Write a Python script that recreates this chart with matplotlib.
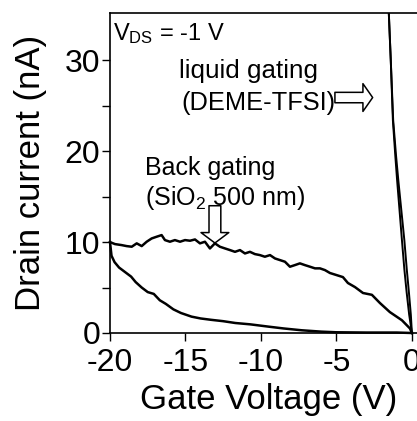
import matplotlib
matplotlib.use("Agg")
import matplotlib.pyplot as plt
from matplotlib.patches import FancyArrowPatch
import numpy as np

plt.rcParams['font.family'] = ['Liberation Sans', 'DejaVu Sans']
plt.rcParams['mathtext.fontset'] = 'custom'
plt.rcParams['mathtext.rm'] = 'Liberation Sans'
plt.rcParams['mathtext.it'] = 'Liberation Sans:italic'
plt.rcParams['axes.unicode_minus'] = False

# back gating (SiO2 500 nm), forward sweep
vg_back_up = [-20.0, -19.67, -19.23, -18.9, -18.56, -18.23, -17.9, -17.57, -17.24, -16.91,
              -16.58, -16.36, -16.03, -15.7, -15.36, -15.03, -14.7, -14.37, -14.04, -13.71,
              -13.38, -13.05, -12.72, -12.38, -12.05, -11.72, -11.39, -11.06, -10.73, -10.4,
              -10.07, -9.74, -9.4, -9.07, -8.74, -8.41, -8.08, -7.75, -7.42, -7.09,
              -6.75, -6.42, -6.09, -5.76, -5.43, -4.57, -4.24, -3.77, -3.24, -2.65,
              -2.12, -1.46, -0.66, -0.13, 0.0]
id_back_up = [10.0, 9.78, 9.67, 9.56, 9.49, 9.86, 9.56, 10.04, 10.4, 10.59,
              10.77, 10.22, 10.04, 10.22, 10.04, 10.22, 10.15, 10.29, 9.86, 10.04,
              9.3, 9.86, 9.49, 9.3, 9.12, 8.93, 9.12, 8.75, 8.93, 8.68,
              8.57, 8.39, 8.57, 8.2, 8.02, 7.84, 7.29, 7.47, 7.66, 7.47,
              7.29, 7.11, 7.11, 6.92, 6.6, 6.15, 5.5, 5.05, 4.4, 4.2,
              3.3, 2.3, 1.4, 0.5, 0.0]

# back gating, reverse sweep
vg_back_dn = [-20.0, -19.9, -19.7, -19.4, -19.0, -18.6, -18.3, -17.9, -17.5, -17.1,
              -16.7, -16.3, -15.8, -15.3, -14.6, -14.0, -13.3, -12.5, -11.7, -10.7,
              -9.5, -8.5, -7.3, -6.0, -5.0, -3.0, -1.0, 0.0]
id_back_dn = [10.0, 8.5, 7.8, 7.2, 6.7, 6.2, 5.6, 5.0, 4.5, 4.3,
              3.6, 3.2, 2.6, 2.2, 1.8, 1.6, 1.45, 1.3, 1.1, 0.95,
              0.7, 0.5, 0.3, 0.15, 0.08, 0.05, 0.05, 0.0]

# liquid gating (DEME-TFSI), both sweeps
vg_liq_a = [-1.55, -1.40, -1.26, -1.10, -0.98, -0.82, -0.66, -0.50, -0.35, -0.18, 0.0]
id_liq_a = [36.0, 30.0, 23.4, 19.5, 16.8, 13.5, 10.2, 7.0, 4.5, 2.0, 0.0]
vg_liq_b = [-1.55, -1.40, -1.24, -1.05, -0.90, -0.70, -0.50, -0.34, -0.20, -0.07, 0.0]
id_liq_b = [36.0, 30.0, 23.4, 19.5, 16.8, 13.5, 10.2, 7.0, 4.5, 2.0, 0.0]

xticks = [-20, -15, -10, -5, 0]
yticks = [0, 10, 20, 30]

fig = plt.figure(figsize=(4.17, 4.21), dpi=100)
ax = fig.add_axes([110/417, 88/421, 317/417, 320/421])

ax.plot(vg_back_up, id_back_up, color='black', lw=1.8, clip_on=False)
ax.plot(vg_back_dn, id_back_dn, color='black', lw=1.8, clip_on=False)
ax.plot(vg_liq_a, id_liq_a, color='black', lw=1.4)
ax.plot(vg_liq_b, id_liq_b, color='black', lw=1.4)

ax.set_xlim(-20, 1)
ax.set_ylim(0, 35.2)
ax.set_xticks(xticks)
ax.set_yticks(yticks)
ax.set_yticks([5, 15, 25], minor=True)
ax.tick_params(axis='both', which='both', direction='out', width=1.0, labelsize=23)
ax.tick_params(axis='y', which='both', length=6, pad=1)
ax.tick_params(axis='x', which='major', length=6, pad=4.5)
for s in ax.spines.values():
    s.set_linewidth(1.2)

ax.set_xlabel('Gate Voltage (V)', fontsize=25, labelpad=4)
ax.set_ylabel('Drain current (nA)', fontsize=25, labelpad=13)

ax.text(-19.8, 32.2, r'V$_{\mathrm{DS}}$ = -1 V', fontsize=17, va='baseline')
ax.text(-15.4, 28.0, 'liquid gating', fontsize=18.7, va='baseline')
ax.text(-15.3, 24.5, '(DEME-TFSI)', fontsize=18.3, va='baseline')
ax.text(-17.7, 17.4, 'Back gating', fontsize=18, va='baseline')
ax.text(-17.7, 14.1, r'(SiO$_2$ 500 nm)', fontsize=18, va='baseline')

arr1 = FancyArrowPatch((-5.1, 25.9), (-2.6, 25.9),
                       arrowstyle='simple,head_length=0.7,head_width=2.0,tail_width=0.75',
                       mutation_scale=10, fc='white', ec='black', lw=1.1,
                       shrinkA=0, shrinkB=0)
arr2 = FancyArrowPatch((-13.05, 14.0), (-13.05, 9.9),
                       arrowstyle='simple,head_length=0.75,head_width=2.0,tail_width=0.85',
                       mutation_scale=10, fc='white', ec='black', lw=1.1,
                       shrinkA=0, shrinkB=0)
ax.add_patch(arr1)
ax.add_patch(arr2)

fig.savefig('out.png', dpi=100)
